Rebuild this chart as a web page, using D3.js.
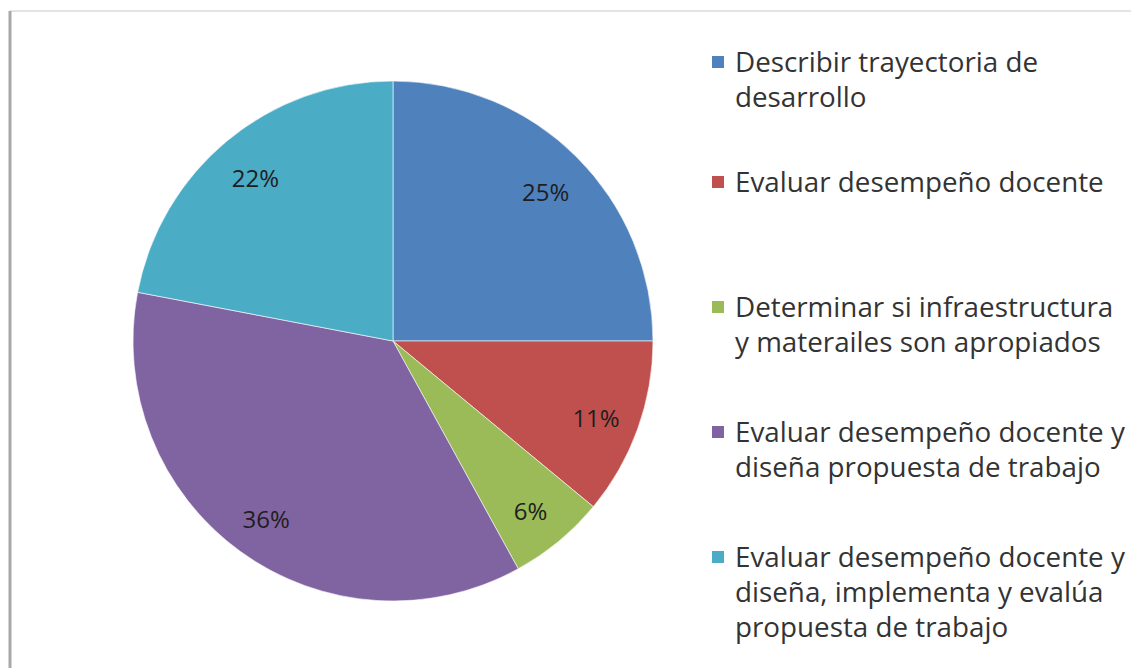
<!DOCTYPE html>
<html>
<head>
<meta charset="utf-8">
<script src="https://cdn.jsdelivr.net/npm/d3@7"></script>
<style>
  body { margin: 0; background: #fff; }
  svg { display: block; }
</style>
</head>
<body>
<svg id="chart" width="1131" height="668"></svg>
<script>
// data
const categories = [
  "Describir trayectoria de desarrollo",
  "Evaluar desempeño docente",
  "Determinar si infraestructura y materailes son apropiados",
  "Evaluar desempeño docente y diseña propuesta de trabajo",
  "Evaluar desempeño docente y diseña, implementa y evalúa propuesta de trabajo"
];
const values = [25, 11, 6, 36, 22];
const legendLines = [
  ["Describir trayectoria de", "desarrollo"],
  ["Evaluar desempeño docente"],
  ["Determinar si infraestructura", "y materailes son apropiados"],
  ["Evaluar desempeño docente y", "diseña propuesta de trabajo"],
  ["Evaluar desempeño docente y", "diseña, implementa y evalúa", "propuesta de trabajo"]
];
const colors = ["#4F81BD", "#C0504D", "#9BBB59", "#8064A2", "#4BACC6"];

const svg = d3.select("#chart");
const font = "'Open Sans', 'Noto Sans', sans-serif";

// frame
svg.append("line").attr("x1", 10).attr("y1", 11).attr("x2", 1131).attr("y2", 11)
  .attr("stroke", "#c8c8c8").attr("stroke-width", 1);
svg.append("line").attr("x1", 10).attr("y1", 11).attr("x2", 10).attr("y2", 668)
  .attr("stroke", "#a8a8a8").attr("stroke-width", 3);

const cx = 393, cy = 341, radius = 260;
const data = categories.map((c, i) => ({ name: c, value: values[i], color: colors[i] }));

const pie = d3.pie().sort(null).value(d => d.value);
const arc = d3.arc().innerRadius(0).outerRadius(radius);
const labelArc = d3.arc().innerRadius(radius * 0.83).outerRadius(radius * 0.83);

const g = svg.append("g").attr("transform", "translate(" + cx + "," + cy + ")");
const arcs = pie(data);

g.selectAll("path")
  .data(arcs)
  .enter()
  .append("path")
  .attr("d", arc)
  .attr("fill", d => d.data.color)
  .attr("stroke", "#ffffff")
  .attr("stroke-width", 0.6);

g.selectAll("text.pct")
  .data(arcs)
  .enter()
  .append("text")
  .attr("class", "pct")
  .attr("transform", d => {
    const c = labelArc.centroid(d);
    return "translate(" + c[0] + "," + (c[1] + 4) + ")";
  })
  .attr("text-anchor", "middle")
  .attr("dy", "0.35em")
  .style("font-family", font)
  .style("font-size", "24px")
  .style("fill", "#1e1e1e")
  .text(d => d.data.value + "%");

// legend
const legendX = 712, textX = 735, lineH = 35;
const firstLineY = [62, 182, 307, 432, 557];
const leg = svg.append("g");
let fontSize = 25;

legendLines.forEach((lines, i) => {
  leg.append("rect")
    .attr("x", legendX).attr("y", firstLineY[i] - 6)
    .attr("width", 12).attr("height", 12)
    .attr("fill", colors[i]);
  lines.forEach((ln, j) => {
    leg.append("text")
      .attr("class", "lg")
      .attr("x", textX)
      .attr("y", firstLineY[i] + j * lineH)
      .attr("dy", "0.35em")
      .style("font-family", font)
      .style("font-size", fontSize + "px")
      .style("fill", "#333")
      .text(ln);
  });
});

// fit the widest legend line to the width in the picture
let maxW = 0;
leg.selectAll("text.lg").each(function() { maxW = Math.max(maxW, this.getComputedTextLength()); });
const scaled = fontSize * 390 / maxW;
leg.selectAll("text.lg").style("font-size", scaled + "px");
</script>
</body>
</html>
